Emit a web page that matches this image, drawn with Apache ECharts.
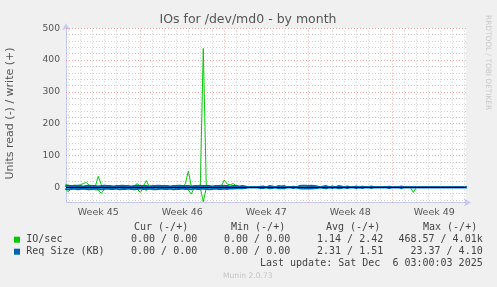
<!DOCTYPE html>
<html>
<head>
<meta charset="utf-8">
<script src="https://cdn.jsdelivr.net/npm/echarts@6/dist/echarts.min.js"></script>
<style>html,body{margin:0;padding:0;background:#f0f0f0;}#c{width:497px;height:287px;}</style>
</head>
<body>
<div id="c"></div>
<script>
// ---- data (days since Mon Nov 3 2025 00:00, 6-hour samples) ----
const START_DAY = 0.75;
const STEP_DAY = 0.25;
const X_MIN = 0.81;
const X_MAX = 34.14;
const weekCenters = [3.5, 10.5, 17.5, 24.5, 31.5];
const weekLabels = ['Week 45', 'Week 46', 'Week 47', 'Week 48', 'Week 49'];
const yLabels = [0, 100, 200, 300, 400, 500];
const Y_MIN = -48;
const Y_MAX = 500;

// IO/sec write (+)
const ioWrite = [
  10,6,4,7,5,8,12,15,6,4,
  3,35,8,2,1,2,1,1,2,1,
  1,3,1,4,12,2,3,21,2,1,
  1,1,1,1,1,1,1,1,1,2,
  10,51,4,1,1,1,437,1,1,1,
  1,1,3,23,10,8,12,4,1,1,
  1,0,0,0,1,0,1,0,1,1,
  0,1,1,0,0,1,0,1,1,1,
  1,1,0,1,0,0,1,0,1,0,
  1,0,0,1,0,0,1,0,0,1,
  0,0,1,0,0,0,0,0,1,0,
  0,0,1,0,0,0,3,0,0,0,
  0,0,0,0,0,0,0,0,0,0,
  0,0,0,0,0
];
// IO/sec read (-)
const ioRead = [
  -5,-14,-3,-5,-2,-4,-6,-3,-2,-5,
  -8,-8,-19,-6,-2,-1,-1,-2,-1,-1,
  -1,-2,-1,-2,-6,-16,-3,-10,-2,-1,
  -1,-1,-1,-1,-1,-1,-1,-1,-1,-2,
  -3,-8,-21,-2,-1,-1,-45,-2,-1,-1,
  -1,-1,-1,-3,-2,-1,-2,-1,-1,-1,
  0,0,0,0,0,0,0,0,0,0,
  0,0,0,0,0,0,0,0,0,0,
  0,0,0,0,0,0,0,0,0,0,
  0,0,0,0,0,0,0,0,0,0,
  0,0,0,0,0,0,0,0,0,0,
  0,0,0,0,0,0,-16,0,0,0,
  0,0,0,0,0,0,0,0,0,0,
  0,0,0,0,0
];
// Req Size (KB) write (+)
const reqWrite = [
  4,5,4,4,5,4,3,4,5,4,
  4,3,4,5,4,4,3,4,4,5,
  4,4,3,4,5,4,4,4,3,4,
  4,5,4,4,4,3,4,4,5,4,
  4,4,3,4,4,5,4,4,4,3,
  4,4,5,4,4,3,4,4,3,4,
  3,0,0,0,0,2,3,0,4,3,
  0,4,3,4,0,0,2,0,4,5,
  5,4,5,4,3,0,3,4,0,3,
  0,4,3,0,3,0,0,3,0,2,
  0,0,3,0,0,0,0,0,2,0,
  0,0,3,0,0,0,0,0,0,0,
  0,0,0,0,0,0,0,0,0,0,
  0,0,0,0,0
];
// Req Size (KB) read (-)
const reqRead = [
  -5,-6,-5,-4,-6,-5,-4,-5,-6,-5,
  -4,-5,-6,-5,-4,-5,-5,-4,-6,-5,
  -5,-4,-5,-6,-5,-4,-5,-5,-4,-5,
  -6,-5,-4,-5,-5,-4,-6,-5,-5,-4,
  -5,-5,-6,-4,-5,-5,-4,-5,-6,-5,
  -4,-5,-5,-4,-5,-3,-4,-3,-3,-3,
  -2,0,0,0,0,-2,-2,0,-3,-2,
  0,-3,-2,-3,0,0,-2,0,-3,-4,
  -4,-3,-4,-3,-2,0,-2,-3,0,-2,
  0,-3,-2,0,-2,0,0,-2,0,-2,
  0,0,-2,0,0,0,0,0,-2,0,
  0,0,-2,0,0,0,0,0,0,0,
  0,0,0,0,0,0,0,0,0,0,
  0,0,0,0,0
];

// legend table
const legendHeaders = ['Cur (-/+)', 'Min (-/+)', 'Avg (-/+)', 'Max (-/+)'];
const legendNames = ['IO/sec', 'Req Size (KB)'];
const legendColors = ['#00cc00', '#0066b3'];
const legendCur = ['0.00 / 0.00', '0.00 / 0.00'];
const legendMin = ['0.00 / 0.00', '0.00 / 0.00'];
const legendAvg = ['1.14 / 2.42', '2.31 / 1.51'];
const legendMax = ['468.57 / 4.01k', '23.37 / 4.10'];
const lastUpdate = 'Last update: Sat Dec  6 03:00:03 2025';
const titleText = 'IOs for /dev/md0 - by month';
const yName = 'Units read (-) / write (+)';
const footer = 'Munin 2.0.73';
const rrdText = 'RRDTOOL / TOBI OETIKER';

// ---- build ----
const toPairs = arr => arr.map((v, i) => [START_DAY + STEP_DAY * i, v]);

const MINOR_C = 'rgba(150,150,150,0.45)';
const MAJOR_C = 'rgba(230,100,100,0.55)';
const gridLines = [];
for (let d = Math.ceil(X_MIN); d <= X_MAX; d++) {
  const major = d % 7 === 0;
  gridLines.push({xAxis: d, lineStyle: {color: major ? MAJOR_C : MINOR_C, type: [1, 2], width: 1}});
}
for (let v = -40; v <= Y_MAX; v += 20) {
  const major = v % 100 === 0;
  gridLines.push({yAxis: v, lineStyle: {color: major ? MAJOR_C : MINOR_C, type: [1, 2], width: 1}});
}

const SANS = 'DejaVu Sans';
const MONO = 'DejaVu Sans Mono';
const txt = (x, y, text, opts) => Object.assign({
  type: 'text', x: x, y: y, silent: true,
  style: Object.assign({text: text, fontFamily: MONO, fontSize: 10, fill: '#444',
    align: 'left', textAlign: 'left', verticalAlign: 'middle', textVerticalAlign: 'middle'}, (opts && opts.style) || {})
}, (opts && opts.el) || {});

const graphics = [];
graphics.push(txt(248, 19.5, titleText, {style: {fontFamily: SANS, fontSize: 12.5, fill: '#555', align: 'center', textAlign: 'center'}}));
graphics.push(txt(10.3, 113.5, yName, {style: {fontFamily: SANS, fontSize: 11, fill: '#555', align: 'center', textAlign: 'center'}, el: {rotation: Math.PI / 2}}));
graphics.push(txt(488, 15, rrdText, {style: {fontFamily: SANS, fontSize: 7.4, fill: '#c8c8c8'}, el: {rotation: -Math.PI / 2}}));
const colX = [134, 231, 326, 423];
legendHeaders.forEach((h, i) => graphics.push(txt(colX[i], 227.3, h)));
const rowY = [239.7, 251.7];
legendNames.forEach((n, r) => {
  graphics.push({type: 'rect', silent: true, shape: {x: 14, y: rowY[r] - 3, width: 6, height: 6}, style: {fill: legendColors[r]}});
  graphics.push(txt(26.3, rowY[r], n));
  graphics.push(txt(131, rowY[r], legendCur[r]));
  graphics.push(txt(224, rowY[r], legendMin[r]));
  graphics.push(txt(317, rowY[r], legendAvg[r]));
  graphics.push(txt(482.7, rowY[r], legendMax[r], {style: {align: 'right', textAlign: 'right'}}));
});
graphics.push(txt(482.7, 263.3, lastUpdate, {style: {align: 'right', textAlign: 'right'}}));
graphics.push(txt(247.8, 276.3, footer, {style: {fontFamily: SANS, fontSize: 7.6, fill: '#c4c4c4', align: 'center', textAlign: 'center'}}));

const axisColor = '#c6c9f2';
const lineSeries = (name, arr, color, z, w) => ({
  name: name, type: 'line', data: toPairs(arr), showSymbol: false, symbol: 'none',
  lineStyle: {color: color, width: w}, itemStyle: {color: color}, z: z, silent: true, clip: true
});

const option = {
  animation: false,
  backgroundColor: '#f0f0f0',
  grid: {left: 66, right: 31, top: 28.3, bottom: 84.4, show: true, backgroundColor: '#ffffff', borderWidth: 0},
  xAxis: {
    type: 'value', min: X_MIN, max: X_MAX,
    splitLine: {show: false},
    axisTick: {show: false},
    axisLine: {show: true, onZero: false, lineStyle: {color: axisColor, width: 1},
      symbol: ['none', 'arrow'], symbolSize: [6, 7], symbolOffset: [0, 5]},
    axisLabel: {customValues: weekCenters, color: '#555', fontFamily: SANS, fontSize: 9.5, margin: 5,
      formatter: v => { const k = weekCenters.findIndex(c => Math.abs(c - v) < 1e-6); return k >= 0 ? weekLabels[k] : ''; }}
  },
  yAxis: {
    type: 'value', min: Y_MIN, max: Y_MAX,
    splitLine: {show: false},
    axisTick: {show: false},
    axisLine: {show: true, onZero: false, lineStyle: {color: axisColor, width: 1},
      symbol: ['none', 'arrow'], symbolSize: [6, 7], symbolOffset: [0, 5]},
    axisLabel: {customValues: yLabels, color: '#555', fontFamily: SANS, fontSize: 9.2, margin: 6}
  },
  graphic: graphics,
  series: [
    {type: 'line', data: [], z: 1, silent: true,
      markLine: {silent: true, symbol: ['none', 'none'], label: {show: false}, animation: false, data: gridLines}},
    lineSeries('IO/sec read', ioRead, '#00cc00', 3, 1),
    lineSeries('IO/sec write', ioWrite, '#00cc00', 3, 1),
    lineSeries('Req Size read', reqRead, '#0066b3', 4, 2),
    lineSeries('Req Size write', reqWrite, '#0066b3', 4, 2),
    {type: 'line', data: [], z: 6, silent: true,
      markLine: {silent: true, symbol: ['none', 'none'], label: {show: false}, animation: false,
        data: [{yAxis: 0, lineStyle: {color: '#000', width: 1, type: 'solid'}}]}}
  ]
};

const chart = echarts.init(document.getElementById('c'), null, {renderer: 'canvas'});
chart.setOption(option);
</script>
</body>
</html>
